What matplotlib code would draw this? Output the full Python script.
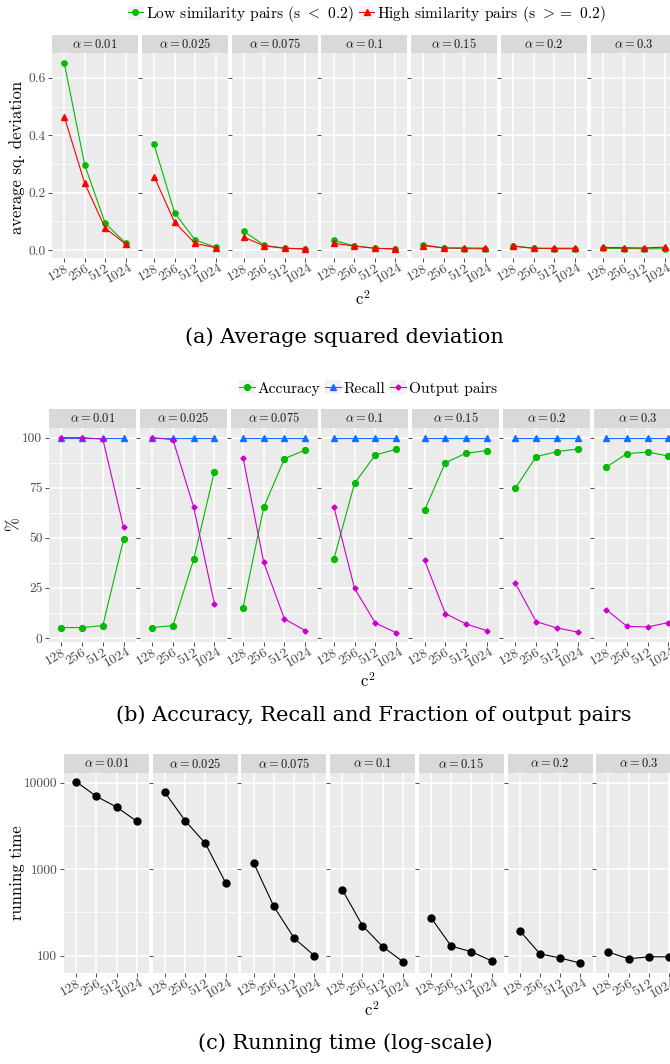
import matplotlib
matplotlib.use('Agg')
import matplotlib.pyplot as plt
from matplotlib.lines import Line2D
from matplotlib.patches import Rectangle
from matplotlib.ticker import NullFormatter
from matplotlib.transforms import ScaledTranslation

plt.rcParams['font.family'] = 'cmr10'
plt.rcParams['mathtext.fontset'] = 'cm'
plt.rcParams['axes.unicode_minus'] = False
plt.rcParams['axes.formatter.use_mathtext'] = True

W, H, DPI = 670, 1064, 100

ALPHAS = ['0.01', '0.025', '0.075', '0.1', '0.15', '0.2', '0.3']
C2 = ['128', '256', '512', '1024']

# (a) average squared deviation, one row per alpha
low_sim = [
    [0.651, 0.296, 0.093, 0.024],
    [0.368, 0.130, 0.035, 0.010],
    [0.065, 0.016, 0.006, 0.003],
    [0.034, 0.014, 0.006, 0.003],
    [0.018, 0.007, 0.005, 0.003],
    [0.014, 0.006, 0.004, 0.004],
    [0.006, 0.005, 0.004, 0.004],
]
high_sim = [
    [0.465, 0.232, 0.076, 0.021],
    [0.256, 0.097, 0.023, 0.008],
    [0.045, 0.014, 0.006, 0.004],
    [0.023, 0.014, 0.006, 0.004],
    [0.015, 0.007, 0.007, 0.006],
    [0.013, 0.006, 0.006, 0.006],
    [0.009, 0.008, 0.007, 0.010],
]

# (b) accuracy / recall / output pairs in %
accuracy = [
    [5.2, 5.2, 6.2, 49.2],
    [5.2, 6.2, 39.2, 83.0],
    [15.2, 65.2, 89.5, 93.8],
    [39.3, 77.2, 91.3, 94.2],
    [63.8, 87.5, 92.2, 93.5],
    [74.8, 90.5, 93.0, 94.3],
    [85.3, 92.0, 92.8, 90.8],
]
recall = [
    [100.0, 100.0, 100.0, 100.0],
    [100.0, 100.0, 100.0, 100.0],
    [100.0, 100.0, 100.0, 100.0],
    [100.0, 100.0, 100.0, 100.0],
    [100.0, 100.0, 100.0, 100.0],
    [100.0, 100.0, 100.0, 100.0],
    [100.0, 100.0, 100.0, 100.0],
]
output_pairs = [
    [100.0, 100.0, 99.2, 55.2],
    [100.0, 99.0, 65.3, 17.2],
    [90.0, 37.7, 9.5, 3.7],
    [65.5, 24.8, 7.5, 2.7],
    [38.7, 12.2, 7.0, 3.7],
    [27.2, 8.2, 5.0, 3.0],
    [14.2, 5.8, 5.5, 7.7],
]

# (c) running time (log scale)
run_time = [
    [10270, 6950, 5230, 3580],
    [7740, 3640, 1990, 698],
    [1189, 372, 160, 100],
    [580, 222, 127, 85],
    [275, 129, 111, 87],
    [195, 105, 94, 82],
    [110, 92, 97, 97],
]

GREEN = '#00BB00'
RED = '#FF0000'
BLUE = '#1A6BFF'
MAGENTA = '#CC00CC'
TICK_C = '#4D4D4D'
KEY_BG = '#F2F2F2'

fig = plt.figure(figsize=(W / DPI, H / DPI), dpi=DPI, facecolor='white')
X = list(range(1, 5))


def facet_row(x0, pitch, w, top, plot_top, bottom):
    axes = []
    off = ScaledTranslation(-6 / DPI, -15.5 / DPI, fig.dpi_scale_trans)
    for i, a in enumerate(ALPHAS):
        left = x0 + i * pitch
        st = fig.add_axes([left / W, 1 - plot_top / H, w / W, (plot_top - top) / H])
        st.set_facecolor('#D9D9D9')
        st.set_xticks([])
        st.set_yticks([])
        for s in st.spines.values():
            s.set_visible(False)
        st.text(0.5, 0.5, rf'$\alpha = {a}$', ha='center', va='center',
                fontsize=9, color='#1A1A1A', transform=st.transAxes)

        ax = fig.add_axes([left / W, 1 - bottom / H, w / W, (bottom - plot_top) / H])
        ax.set_facecolor('#EBEBEB')
        for s in ax.spines.values():
            s.set_visible(False)
        ax.set_xlim(0.4, 4.6)
        ax.set_xticks(X)
        ax.set_xticklabels([])
        ax.tick_params(length=2.7, width=0.6, color='#333333', labelsize=9.7,
                       labelcolor=TICK_C, pad=2)
        ax.tick_params(which='minor', length=0)
        ax.grid(which='major', color='white', lw=1.1)
        ax.grid(which='minor', color='white', lw=0.55)
        ax.set_axisbelow(True)
        for j, lab in enumerate(C2):
            ax.text(X[j], 0, lab, transform=ax.get_xaxis_transform() + off,
                    rotation=30, ha='center', va='center', fontsize=10, color=TICK_C)
        if i > 0:
            ax.tick_params(axis='y', labelleft=False)
        axes.append(ax)
    return axes


def key(color, marker, ms):
    return (Rectangle((0, 0), 1, 1, facecolor=KEY_BG, edgecolor='none'),
            Line2D([], [], color=color, lw=0.8, marker=marker, ms=ms))


# ---- (a) ----
axa = facet_row(52, 89.8, 86, 35, 53, 258)
for i, ax in enumerate(axa):
    ax.plot(X, low_sim[i], color=GREEN, lw=0.8, marker='o', ms=3.8)
    ax.plot(X, high_sim[i], color=RED, lw=0.8, marker='^', ms=4.5)
    ax.set_ylim(-0.028, 0.687)
    ax.set_yticks([0.0, 0.2, 0.4, 0.6])
    ax.set_yticks([0.1, 0.3, 0.5], minor=True)
    ax.yaxis.set_minor_formatter(NullFormatter())
axa[0].set_yticklabels(['0.0', '0.2', '0.4', '0.6'])

fig.legend([key(GREEN, 'o', 4), key(RED, '^', 4.5)],
           [r'Low similarity pairs (s $<$ 0.2)', r'High similarity pairs (s $>=$ 0.2)'],
           loc='center', bbox_to_anchor=(367 / W, 1 - 14 / H), ncol=2, frameon=False,
           fontsize=11.2, handlelength=1.0, handleheight=1.0, handletextpad=0.2,
           columnspacing=0.3)
fig.text(17 / W, 1 - 157 / H, 'average sq. deviation', rotation=90, ha='center',
         va='center', fontsize=12)
fig.text(363 / W, 1 - 299 / H, r'$\mathrm{c}^2$', ha='center', va='center', fontsize=12)
fig.text(344 / W, 1 - 337 / H, '(a) Average squared deviation', ha='center', va='center',
         fontsize=15, family='DejaVu Serif')

# ---- (b) ----
axb = facet_row(49, 90.8, 87, 409, 428, 642)
for i, ax in enumerate(axb):
    ax.plot(X, accuracy[i], color=GREEN, lw=0.8, marker='o', ms=4.2)
    ax.plot(X, recall[i], color=BLUE, lw=0.8, marker='^', ms=4.5)
    ax.plot(X, output_pairs[i], color=MAGENTA, lw=0.8, marker='D', ms=2.6)
    ax.set_ylim(-2.0, 104.8)
    ax.set_yticks([0, 25, 50, 75, 100])
    ax.set_yticks([12.5, 37.5, 62.5, 87.5], minor=True)
    ax.yaxis.set_minor_formatter(NullFormatter())
axb[0].set_yticklabels(['0', '25', '50', '75', '100'])

fig.legend([key(GREEN, 'o', 4.2), key(BLUE, '^', 4.5), key(MAGENTA, 'D', 2.6)],
           ['Accuracy', 'Recall', 'Output pairs'],
           loc='center', bbox_to_anchor=(368 / W, 1 - 388 / H), ncol=3, frameon=False,
           fontsize=11.2, handlelength=1.0, handleheight=1.0, handletextpad=0.2,
           columnspacing=0.3)
fig.text(13 / W, 1 - 525 / H, r'$\%$', rotation=90, ha='center', va='center', fontsize=12)
fig.text(368 / W, 1 - 681 / H, r'$\mathrm{c}^2$', ha='center', va='center', fontsize=12)
fig.text(374 / W, 1 - 715 / H, '(b) Accuracy, Recall and Fraction of output pairs',
         ha='center', va='center', fontsize=15, family='DejaVu Serif')

# ---- (c) ----
axc = facet_row(64, 88.7, 85, 754, 773, 973)
for i, ax in enumerate(axc):
    ax.plot(X, run_time[i], color='black', lw=0.8, marker='o', ms=5)
    ax.set_yscale('log')
    ax.set_ylim(63, 12950)
    ax.set_yticks([100, 1000, 10000])
    ax.set_yticks([10 ** 2.5, 10 ** 3.5], minor=True)
    ax.yaxis.set_minor_formatter(NullFormatter())
    ax.tick_params(which='minor', length=0)
axc[0].set_yticklabels(['100', '1000', '10000'])
for ax in axc[1:]:
    ax.set_yticklabels([])

fig.text(17 / W, 1 - 873 / H, 'running time', rotation=90, ha='center', va='center',
         fontsize=12)
fig.text(372 / W, 1 - 1010 / H, r'$\mathrm{c}^2$', ha='center', va='center', fontsize=12)
fig.text(345 / W, 1 - 1043 / H, '(c) Running time (log-scale)', ha='center', va='center',
         fontsize=15, family='DejaVu Serif')

fig.savefig('out.png', dpi=DPI)
